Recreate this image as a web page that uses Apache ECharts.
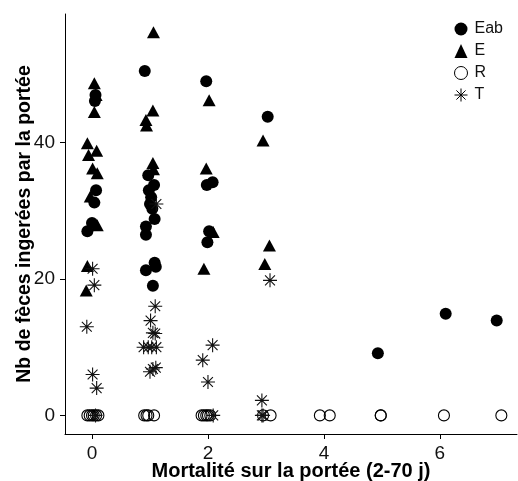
<!DOCTYPE html>
<html>
<head>
<meta charset="utf-8">
<script src="https://cdn.jsdelivr.net/npm/echarts@6/dist/echarts.min.js"></script>
<style>
html,body{margin:0;padding:0;background:#fff;}
#c{width:518px;height:481px;}
</style>
</head>
<body>
<div id="c"></div>
<script>
var seriesNames = ['Eab', 'E', 'R', 'T'];
var xTicks = [0, 2, 4, 6];
var yTicks = [0, 20, 40];
var xTitle = 'Mortalité sur la portée (2-70 j)';
var yTitle = 'Nb de fèces ingerées par la portée';

var eab = [
  [0.06,47.0],[0.05,46.1],[0.07,33.0],[0.04,31.2],[0.0,28.2],[-0.08,27.0],
  [0.91,50.5],[0.97,35.2],[1.07,33.8],[0.98,33.0],[1.02,32.0],[1.0,31.0],[1.04,30.3],
  [1.08,28.8],[0.93,27.7],[0.93,26.5],[0.93,21.3],[1.08,22.4],[1.1,21.8],[1.05,19.0],
  [1.97,49.0],[1.98,33.8],[2.08,34.2],[2.02,27.0],[1.99,25.4],
  [3.03,43.8],[4.93,9.1],[6.1,14.9],[6.98,13.9]
];
var e = [
  [0.04,48.7],[0.07,47.0],[0.04,44.5],[-0.08,39.9],[-0.06,38.2],[0.08,38.8],
  [0.01,36.2],[0.09,35.5],[-0.03,32.1],[0.09,27.9],[-0.08,21.9],[-0.1,18.3],
  [1.06,56.2],[1.05,44.7],[0.93,43.3],[0.94,42.5],[1.05,37.0],[1.06,36.1],
  [2.02,46.2],[1.97,36.2],[2.09,26.9],[1.93,21.5],
  [2.95,40.3],[3.06,24.9],[2.98,22.2]
];
var r = [
  [-0.08,0],[-0.04,0],[0.0,0],[0.03,0],[0.07,0],[0.11,0],
  [0.9,0],[0.94,0],[0.97,0],[1.07,0],
  [1.89,0],[1.93,0],[1.97,0],[2.0,0],[2.04,0],
  [2.95,0],[3.08,0],[3.93,0],[4.1,0],[4.98,0],[4.98,0],[6.07,0],[7.06,0]
];
var t = [
  [0.01,21.5],[0.04,19.1],[-0.09,13.0],[0.01,6.0],[0.08,4.0],[0.06,0],
  [1.11,31.0],[1.09,16.0],[1.01,13.9],[1.05,12.1],[1.09,12.0],
  [0.89,10.0],[0.97,10.0],[1.03,10.0],[1.11,10.0],[1.0,6.4],[1.1,7.0],[1.05,6.8],
  [2.08,10.3],[1.91,8.1],[2.0,4.9],[2.09,0],
  [3.07,19.8],[2.93,2.2],[2.93,0],[2.95,0]
];

var star = 'path://M0,6L12,6M6,0L6,12M1.76,1.76L10.24,10.24M1.76,10.24L10.24,1.76';
var font = 'Liberation Sans, Arial, sans-serif';

var chart = echarts.init(document.getElementById('c'), null, {renderer: 'canvas'});
chart.setOption({
  animation: false,
  backgroundColor: '#fff',
  grid: {left: 65, top: 14, right: 1, bottom: 47, containLabel: false, outerBoundsMode: 'none'},
  legend: {
    orient: 'vertical', left: 454, top: 21,
    itemWidth: 13, itemHeight: 14, itemGap: 6, padding: 0,
    textStyle: {fontSize: 16, color: '#111', fontFamily: font, padding: [0,0,0,2]},
    data: [
      {name: 'Eab', icon: 'circle', itemStyle: {color: '#000'}},
      {name: 'E', icon: 'triangle', itemStyle: {color: '#000'}},
      {name: 'R', icon: 'circle', itemStyle: {color: 'rgba(0,0,0,0)', borderColor: '#000', borderWidth: 1}},
      {name: 'T', icon: star, itemStyle: {color: 'rgba(0,0,0,0)', borderColor: '#000', borderWidth: 1}}
    ]
  },
  xAxis: {
    type: 'value', min: -0.466, max: 7.33,
    name: xTitle, nameLocation: 'middle', nameGap: 27, nameMoveOverlap: false,
    nameTextStyle: {fontSize: 20, fontWeight: 'bold', color: '#000', fontFamily: font},
    axisLine: {show: true, onZero: false, lineStyle: {color: '#000', width: 1}},
    axisTick: {show: true, length: 5, lineStyle: {color: '#000'}, customValues: xTicks},
    axisLabel: {fontSize: 19, color: '#111', fontFamily: font, margin: 10, customValues: xTicks},
    splitLine: {show: false}
  },
  yAxis: {
    type: 'value', min: -2.73, max: 58.86,
    name: yTitle, nameLocation: 'middle', nameGap: 30, nameRotate: 90, nameMoveOverlap: false,
    nameTextStyle: {fontSize: 19.5, fontWeight: 'bold', color: '#000', fontFamily: font},
    axisLine: {show: true, onZero: false, lineStyle: {color: '#000', width: 1}},
    axisTick: {show: true, length: 5, lineStyle: {color: '#000'}, customValues: yTicks},
    axisLabel: {fontSize: 19, color: '#111', fontFamily: font, margin: 10, customValues: yTicks},
    splitLine: {show: false}
  },
  series: [
    {name: 'Eab', type: 'scatter', data: eab, symbol: 'circle', symbolSize: 12,
     itemStyle: {color: '#000', opacity: 1}, z: 3},
    {name: 'E', type: 'scatter', data: e, symbol: 'triangle', symbolSize: [13, 12],
     itemStyle: {color: '#000', opacity: 1}, z: 3},
    {name: 'R', type: 'scatter', data: r, symbol: 'circle', symbolSize: 11,
     itemStyle: {color: 'rgba(0,0,0,0)', borderColor: '#000', borderWidth: 1.1, opacity: 1}, z: 2},
    {name: 'T', type: 'scatter', data: t, symbol: star, symbolSize: 14,
     itemStyle: {color: 'rgba(0,0,0,0)', borderColor: '#111', borderWidth: 1.1, opacity: 1}, z: 4}
  ]
});
</script>
</body>
</html>
